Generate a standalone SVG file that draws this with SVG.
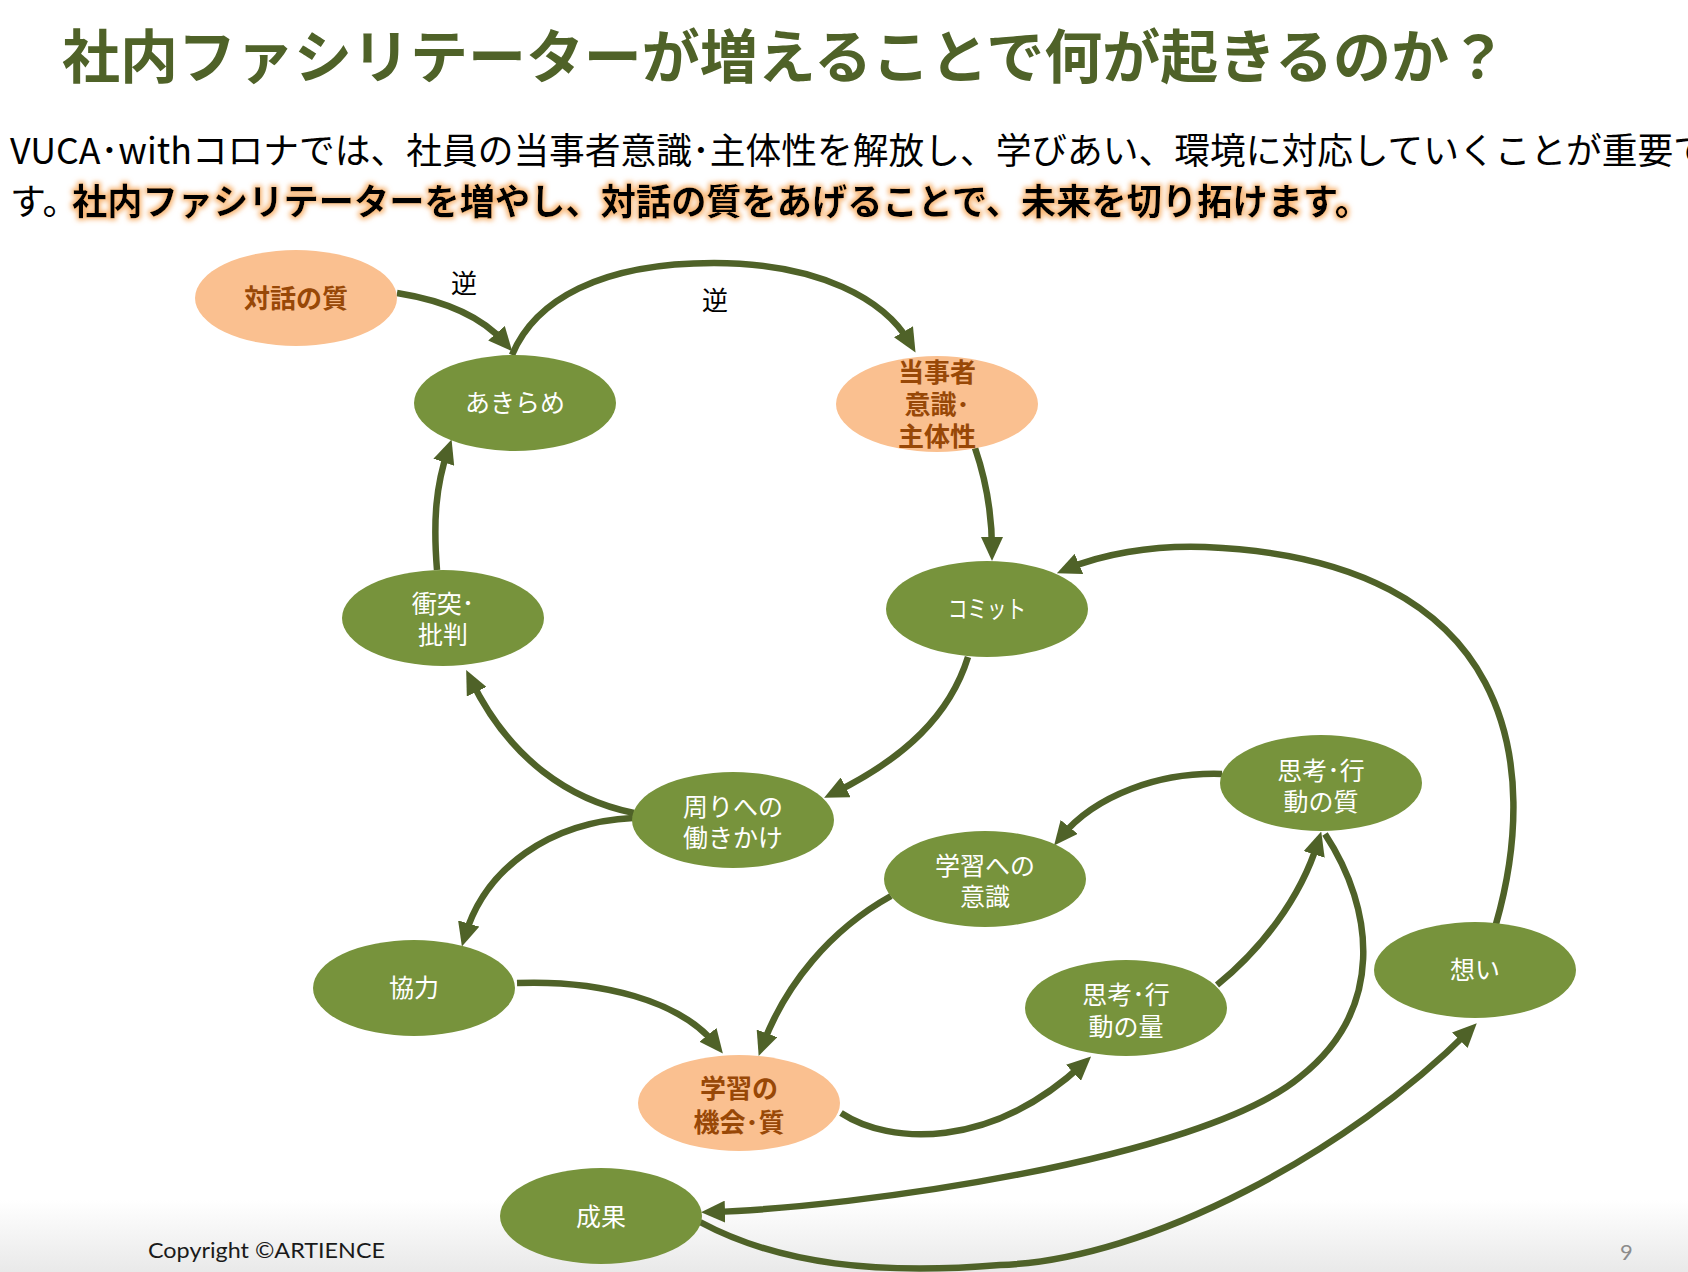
<svg xmlns="http://www.w3.org/2000/svg" width="1688" height="1272" viewBox="0 0 1688 1272">
<style>
.t{font-family:'Noto Sans CJK JP','Noto Sans',sans-serif}
.ng{fill:#77933C}
.np{fill:#FAC090}
.lw{font-family:'Noto Sans CJK JP','Noto Sans',sans-serif;font-size:25px;fill:#ffffff;text-anchor:middle}
.lp{font-family:'Noto Sans CJK JP','Noto Sans',sans-serif;font-size:26px;font-weight:700;fill:#984807;text-anchor:middle}
.c{fill:none;stroke:#4F6228;stroke-width:6.5;marker-end:url(#arr)}
.rev{font-family:'Noto Sans CJK JP','Noto Sans',sans-serif;font-size:26px;fill:#000000;text-anchor:middle}
</style>
<defs>
<marker id="arr" markerUnits="userSpaceOnUse" markerWidth="24" markerHeight="22" viewBox="0 0 24 22" refX="13" refY="11" orient="auto">
<path d="M0,0 L24,11 L0,22 z" fill="#4F6228"/>
</marker>
<linearGradient id="foot" x1="0" y1="0" x2="0" y2="1">
<stop offset="0" stop-color="#ffffff"/>
<stop offset="1" stop-color="#e9e9e9"/>
</linearGradient>
<filter id="glow" x="-3%" y="-40%" width="106%" height="180%">
<feMorphology in="SourceAlpha" operator="dilate" radius="2" result="d"/>
<feGaussianBlur in="d" stdDeviation="2.5" result="b"/>
<feFlood flood-color="#F7AE66" flood-opacity="0.9"/>
<feComposite in2="b" operator="in" result="g"/>
<feMerge><feMergeNode in="g"/><feMergeNode in="SourceGraphic"/></feMerge>
</filter>
</defs>
<rect x="0" y="0" width="1688" height="1272" fill="#ffffff"/>
<rect x="0" y="1200" width="1688" height="72" fill="url(#foot)"/>

<g id="header">
<text class="t" x="62" y="78" font-size="58" font-weight="600" fill="#4F6228" textLength="1445" lengthAdjust="spacingAndGlyphs">社内ファシリテーターが増えることで何が起きるのか？</text>
<text class="t" x="10" y="164" font-size="36" fill="#000000" textLength="1699" lengthAdjust="spacingAndGlyphs">VUCA･withコロナでは、社員の当事者意識･主体性を解放し、学びあい、環境に対応していくことが重要で</text>
<text class="t" x="10" y="215" font-size="36" fill="#000000">す。</text>
<text class="t" x="72" y="215" font-size="36" font-weight="700" fill="#000000" textLength="1298" lengthAdjust="spacingAndGlyphs" filter="url(#glow)">社内ファシリテーターを増やし、対話の質をあげることで、未来を切り拓けます。</text>
</g>

<g id="connectors">
<path class="c" d="M397,293 Q472,305 505,343"/>
<path class="c" d="M512,355 C535,300 600,263 714,263 C820,263 885,300 910,343"/>
<path class="c" d="M975,448 C986,480 992,515 992,550"/>
<path class="c" d="M968,657 C950,715 905,758 834,793"/>
<path class="c" d="M634,813 C570,800 510,760 471,680"/>
<path class="c" d="M437,570 C433,520 436,485 448,450"/>
<path class="c" d="M633,818 C550,822 485,868 465,936"/>
<path class="c" d="M517,983 C600,980 680,1000 716,1045"/>
<path class="c" d="M891,896 C830,930 785,985 762.5,1045.6"/>
<path class="c" d="M1222,774 C1160,772 1095,795 1061,837"/>
<path class="c" d="M841,1113 C890,1145 990,1150 1083,1064"/>
<path class="c" d="M1217,985 C1260,950 1300,900 1318,842"/>
<path class="c" d="M1325,834 C1375,910 1385,1010 1300,1077 C1200,1160 850,1208 712,1212"/>
<path class="c" d="M700,1222 C780,1265 880,1275 1000,1265 C1150,1260 1350,1150 1469,1031"/>
<path class="c" d="M1496,924 C1540,770 1520,560 1205,547 C1150,545 1100,555 1067,569"/>
<text class="rev" x="464" y="293">逆</text>
<text class="rev" x="715" y="310">逆</text>
</g>

<g id="n-taiwa"><ellipse class="np" cx="296" cy="298" rx="101" ry="48"/><text class="lp" x="296" y="308">対話の質</text></g>
<g id="n-akirame"><ellipse class="ng" cx="515" cy="403" rx="101" ry="48"/><text class="lw" x="515" y="412">あきらめ</text></g>
<g id="n-toujisha"><ellipse class="np" cx="937" cy="404" rx="101" ry="48"/><text class="lp" font-size="27" x="937" y="382">当事者<tspan x="937" dy="32">意識･</tspan><tspan x="937" dy="32">主体性</tspan></text></g>
<g id="n-shoutotsu"><ellipse class="ng" cx="443" cy="618" rx="101" ry="48"/><text class="lw" x="443" y="613">衝突･<tspan x="443" dy="31">批判</tspan></text></g>
<g id="n-commit"><ellipse class="ng" cx="987" cy="609" rx="101" ry="48"/><text class="lw" x="987" y="618" textLength="78" lengthAdjust="spacingAndGlyphs">コミット</text></g>
<g id="n-mawari"><ellipse class="ng" cx="733" cy="820" rx="101" ry="48"/><text class="lw" x="733" y="816">周りへの<tspan x="733" dy="31">働きかけ</tspan></text></g>
<g id="n-gakushu-ishiki"><ellipse class="ng" cx="985" cy="879" rx="101" ry="48"/><text class="lw" x="985" y="875">学習への<tspan x="985" dy="31">意識</tspan></text></g>
<g id="n-shikou-shitsu"><ellipse class="ng" cx="1321" cy="783" rx="101" ry="48"/><text class="lw" x="1321" y="780">思考･行<tspan x="1321" dy="31">動の質</tspan></text></g>
<g id="n-shikou-ryou"><ellipse class="ng" cx="1126" cy="1008" rx="101" ry="48"/><text class="lw" x="1126" y="1004">思考･行<tspan x="1126" dy="32">動の量</tspan></text></g>
<g id="n-omoi"><ellipse class="ng" cx="1475" cy="970" rx="101" ry="48"/><text class="lw" x="1475" y="979">想い</text></g>
<g id="n-kyouryoku"><ellipse class="ng" cx="414" cy="988" rx="101" ry="48"/><text class="lw" x="414" y="997">協力</text></g>
<g id="n-gakushu-kikai"><ellipse class="np" cx="739" cy="1103" rx="101" ry="48"/><text class="lp" x="739" y="1098">学習の<tspan x="739" dy="34">機会･質</tspan></text></g>
<g id="n-seika"><ellipse class="ng" cx="601" cy="1216" rx="101" ry="48"/><text class="lw" x="601" y="1226">成果</text></g>

<g id="footer">
<text x="148" y="1258" font-family="Lato,'Liberation Sans',sans-serif" font-size="21" fill="#1a1a1a" textLength="237" lengthAdjust="spacingAndGlyphs">Copyright ©ARTIENCE</text>
<text x="1620" y="1260" font-family="Lato,'Liberation Sans',sans-serif" font-size="22" fill="#8c8c8c">9</text>
</g>
</svg>
